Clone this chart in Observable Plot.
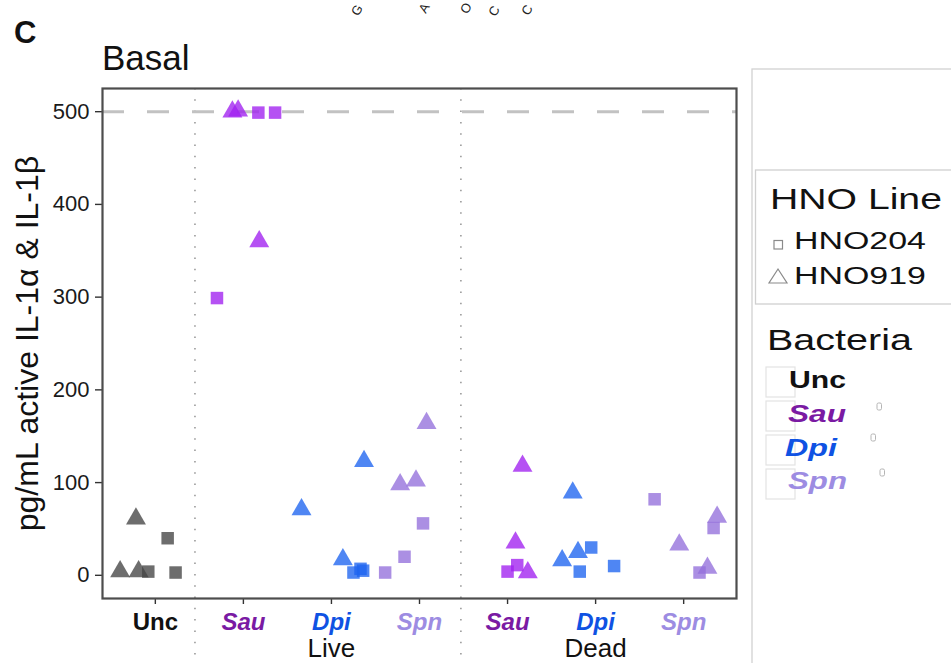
<!DOCTYPE html>
<html><head><meta charset="utf-8">
<script src="https://cdn.jsdelivr.net/npm/d3@7"></script>
<script src="https://cdn.jsdelivr.net/npm/@observablehq/plot@0.6"></script>
<style>
body{margin:0;background:#fff;}
#wrap{position:relative;width:951px;height:663px;overflow:hidden;background:#fff;font-family:"Liberation Sans",Arial,Helvetica,sans-serif;}
#wrap > svg{position:absolute;left:0;top:0;}
</style></head><body><div id="wrap"></div>
<script>
// ---------- data ----------
const groupPos = [1, 2, 3, 4, 5, 6, 7];
const groupLabels = ["Unc", "Sau", "Dpi", "Spn", "Sau", "Dpi", "Spn"];
const conditionLabels = ["Live", "Dead"];
const conditionPos = [3, 6];
const dividerPos = [1.45, 4.47];
const upperLimit = 500;
const yTicks = [0, 100, 200, 300, 400, 500];
const yLabel = "pg/mL active IL-1α & IL-1β";
const panelTitle = "Basal";
const panelLetter = "C";

const bacteriaNames = ["Unc", "Sau", "Dpi", "Spn"];
const bacteriaLabelColors = ["#111111", "#7a1aa3", "#0f52e3", "#9d8ce2"];
const bacteriaPointColors = ["#444444", "#a020f0", "#1e64f0", "#9370db"];
const hnoLines = ["HNO204", "HNO919"];

// points: group index, HNO line, jitter offset, value
const ptGroup  = [1,1,1,1,1,1, 2,2,2,2,2,2, 3,3,3,3,3,3, 4,4,4,4,4,4, 5,5,5,5,5, 6,6,6,6,6,6, 7,7,7,7,7,7];
const ptLine   = ["HNO919","HNO919","HNO919","HNO204","HNO204","HNO204",
                  "HNO919","HNO919","HNO204","HNO204","HNO919","HNO204",
                  "HNO919","HNO919","HNO919","HNO204","HNO204","HNO204",
                  "HNO919","HNO919","HNO919","HNO204","HNO204","HNO204",
                  "HNO919","HNO919","HNO919","HNO204","HNO204",
                  "HNO919","HNO919","HNO919","HNO204","HNO204","HNO204",
                  "HNO204","HNO919","HNO204","HNO919","HNO919","HNO204"];
const ptOffset = [-0.40,-0.22,-0.19,-0.08,0.14,0.23,
                  -0.125,-0.06,0.17,0.36,0.18,-0.30,
                  -0.34,0.37,0.13,0.25,0.33,0.36,
                  0.08,-0.22,-0.04,0.04,-0.17,-0.39,
                  0.17,0.09,0.23,0.00,0.11,
                  -0.26,-0.38,-0.20,-0.05,-0.18,0.21,
                  -0.33,0.38,0.34,-0.05,0.27,0.18];
const ptValue  = [4,61,4,4,40,3,
                  500,501,499,499,360,299,
                  71,123,17,3,7,5,
                  164,98,102,56,20,3,
                  118,35,3,4,11,
                  89,16,25,30,4,10,
                  82,63,51,33,8,3];

// ---------- build ----------
const points = ptValue.map((v, i) => ({
  x: ptGroup[i] + ptOffset[i],
  y: v,
  line: ptLine[i],
  bact: groupLabels[ptGroup[i] - 1]
}));

const font = '"Liberation Sans", Arial, Helvetica, sans-serif';

const labelMarks = groupPos.map((p, i) => {
  const bi = bacteriaNames.indexOf(groupLabels[i]);
  return Plot.text([groupLabels[i]], {
    x: () => p, frameAnchor: "bottom", dy: 31,
    fill: bacteriaLabelColors[bi], fontWeight: "bold",
    fontStyle: groupLabels[i] === "Unc" ? "normal" : "italic",
    fontSize: 24
  });
});
const condMarks = conditionPos.map((p, i) => Plot.text([conditionLabels[i]], {
  x: () => p, frameAnchor: "bottom", dy: 58, fill: "#111", fontSize: 26
}));

const chart = Plot.plot({
  width: 951, height: 663,
  marginLeft: 102, marginRight: 215, marginTop: 88, marginBottom: 65,
  x: {domain: [0.4, 7.6]},
  y: {domain: [-25, 525]},
  color: {domain: bacteriaNames, range: bacteriaPointColors},
  symbol: {domain: hnoLines, range: ["square", "triangle"]},
  style: {fontFamily: font, background: "transparent", color: "#1a1a1a", overflow: "visible"},
  marks: [
    Plot.ruleX(dividerPos, {x: d => d, stroke: "#9a9a9a", strokeWidth: 1.6, strokeDasharray: "1.5,9.8", insetBottom: -65}),
    Plot.ruleY([upperLimit], {y: d => d, stroke: "#c2c2c2", strokeWidth: 3, strokeDasharray: "22,23"}),
    Plot.dot(points.filter(d => d.line === "HNO204"), {x: "x", y: "y", symbol: "line", fill: "bact", r: 7.05, fillOpacity: 0.78}),
    Plot.dot(points.filter(d => d.line === "HNO919"), {x: "x", y: "y", symbol: "line", fill: "bact", r: 7.4, fillOpacity: 0.78}),
    Plot.axisY(yTicks, {tickSize: 7, tickPadding: 6, fontSize: 22, label: null, stroke: "#333", strokeWidth: 1.4, fill: "#1a1a1a"}),
    Plot.axisX(groupPos, {tickSize: 6, tickFormat: () => "", label: null, stroke: "#333", strokeWidth: 1.4}),
    ...labelMarks,
    ...condMarks,
    Plot.text([yLabel], {frameAnchor: "left", textAnchor: "middle", rotate: -90, dx: -75, fontSize: 32, fill: "#111"}),
    Plot.frame({stroke: "#4d4d4d", strokeWidth: 2.2})
  ]
});
document.getElementById("wrap").appendChild(chart);

// ---------- titles & legend overlay ----------
const ov = d3.select("#wrap").append("svg").attr("width", 951).attr("height", 663)
  .style("font-family", font);

function stretchText(x, y, txt, size, width, attrs = {}) {
  const t = ov.append("text").attr("font-size", size).attr("fill", "#111").text(txt);
  for (const k in attrs) t.attr(k, attrs[k]);
  const w = t.node().getComputedTextLength();
  t.attr("transform", `translate(${x},${y}) scale(${width / w},1)`);
  return t;
}

// fragments of the panel above
const fragChars = ["G", "A", "O", "C", "C"];
const fragX = [357, 424, 466, 494, 527];
const fragY = [10, 8, 8, 11, 10];
fragChars.forEach((c, i) => ov.append("text").attr("transform", `translate(${fragX[i]},${fragY[i]}) rotate(-60)`)
  .attr("font-size", 13).attr("text-anchor", "middle").attr("dominant-baseline", "central")
  .attr("fill", "#222").text(c));

ov.append("text").attr("x", 14).attr("y", 43).attr("font-size", 31).attr("font-weight", "bold").attr("fill", "#111").text(panelLetter);
ov.append("text").attr("x", 102).attr("y", 70).attr("font-size", 35).attr("fill", "#111").text(panelTitle);

// legend outer box
ov.append("rect").attr("x", 752).attr("y", 69).attr("width", 300).attr("height", 700)
  .attr("fill", "none").attr("stroke", "#d2d2d2").attr("stroke-width", 1.3);
// HNO line box
ov.append("rect").attr("x", 755.5).attr("y", 170).attr("width", 300).attr("height", 134)
  .attr("fill", "#fff").attr("stroke", "#d0d0d0").attr("stroke-width", 1.3);
stretchText(770, 209, "HNO Line", 30, 172);
const hnoY = [249, 284];
hnoLines.forEach((h, i) => stretchText(794, hnoY[i], h, 24, 132));
ov.append("rect").attr("x", 774).attr("y", 240.5).attr("width", 8.5).attr("height", 8.5)
  .attr("fill", "none").attr("stroke", "#8a8a8a").attr("stroke-width", 1.2);
ov.append("path").attr("d", "M778,269 L787,283 L769,283 Z")
  .attr("fill", "none").attr("stroke", "#8a8a8a").attr("stroke-width", 1.2);

// Bacteria legend
stretchText(767, 350, "Bacteria", 30, 145);
const bactY = [388, 422, 456, 489];
const bactW = [57, 58, 52, 59];
const bactX = [789, 788, 785, 788];
const markX = [877, 871, 880];
const markY = [403, 434, 469];
bacteriaNames.forEach((b, i) => {
  ov.append("rect").attr("x", 766).attr("y", 367 + 34 * i).attr("width", 29).attr("height", 30)
    .attr("fill", "#fff").attr("stroke", "#e3e3e3").attr("stroke-width", 1.2);
});
bacteriaNames.forEach((b, i) => {
  stretchText(bactX[i], bactY[i], b, 23, bactW[i], {
    "font-weight": "bold", "font-style": i === 0 ? "normal" : "italic", fill: bacteriaLabelColors[i]
  });
});
markX.forEach((x, i) => ov.append("rect").attr("x", x).attr("y", markY[i]).attr("width", 4.5).attr("height", 7)
  .attr("rx", 1.5).attr("fill", "#fff").attr("stroke", "#b5b5b5").attr("stroke-width", 1));
</script></body></html>
